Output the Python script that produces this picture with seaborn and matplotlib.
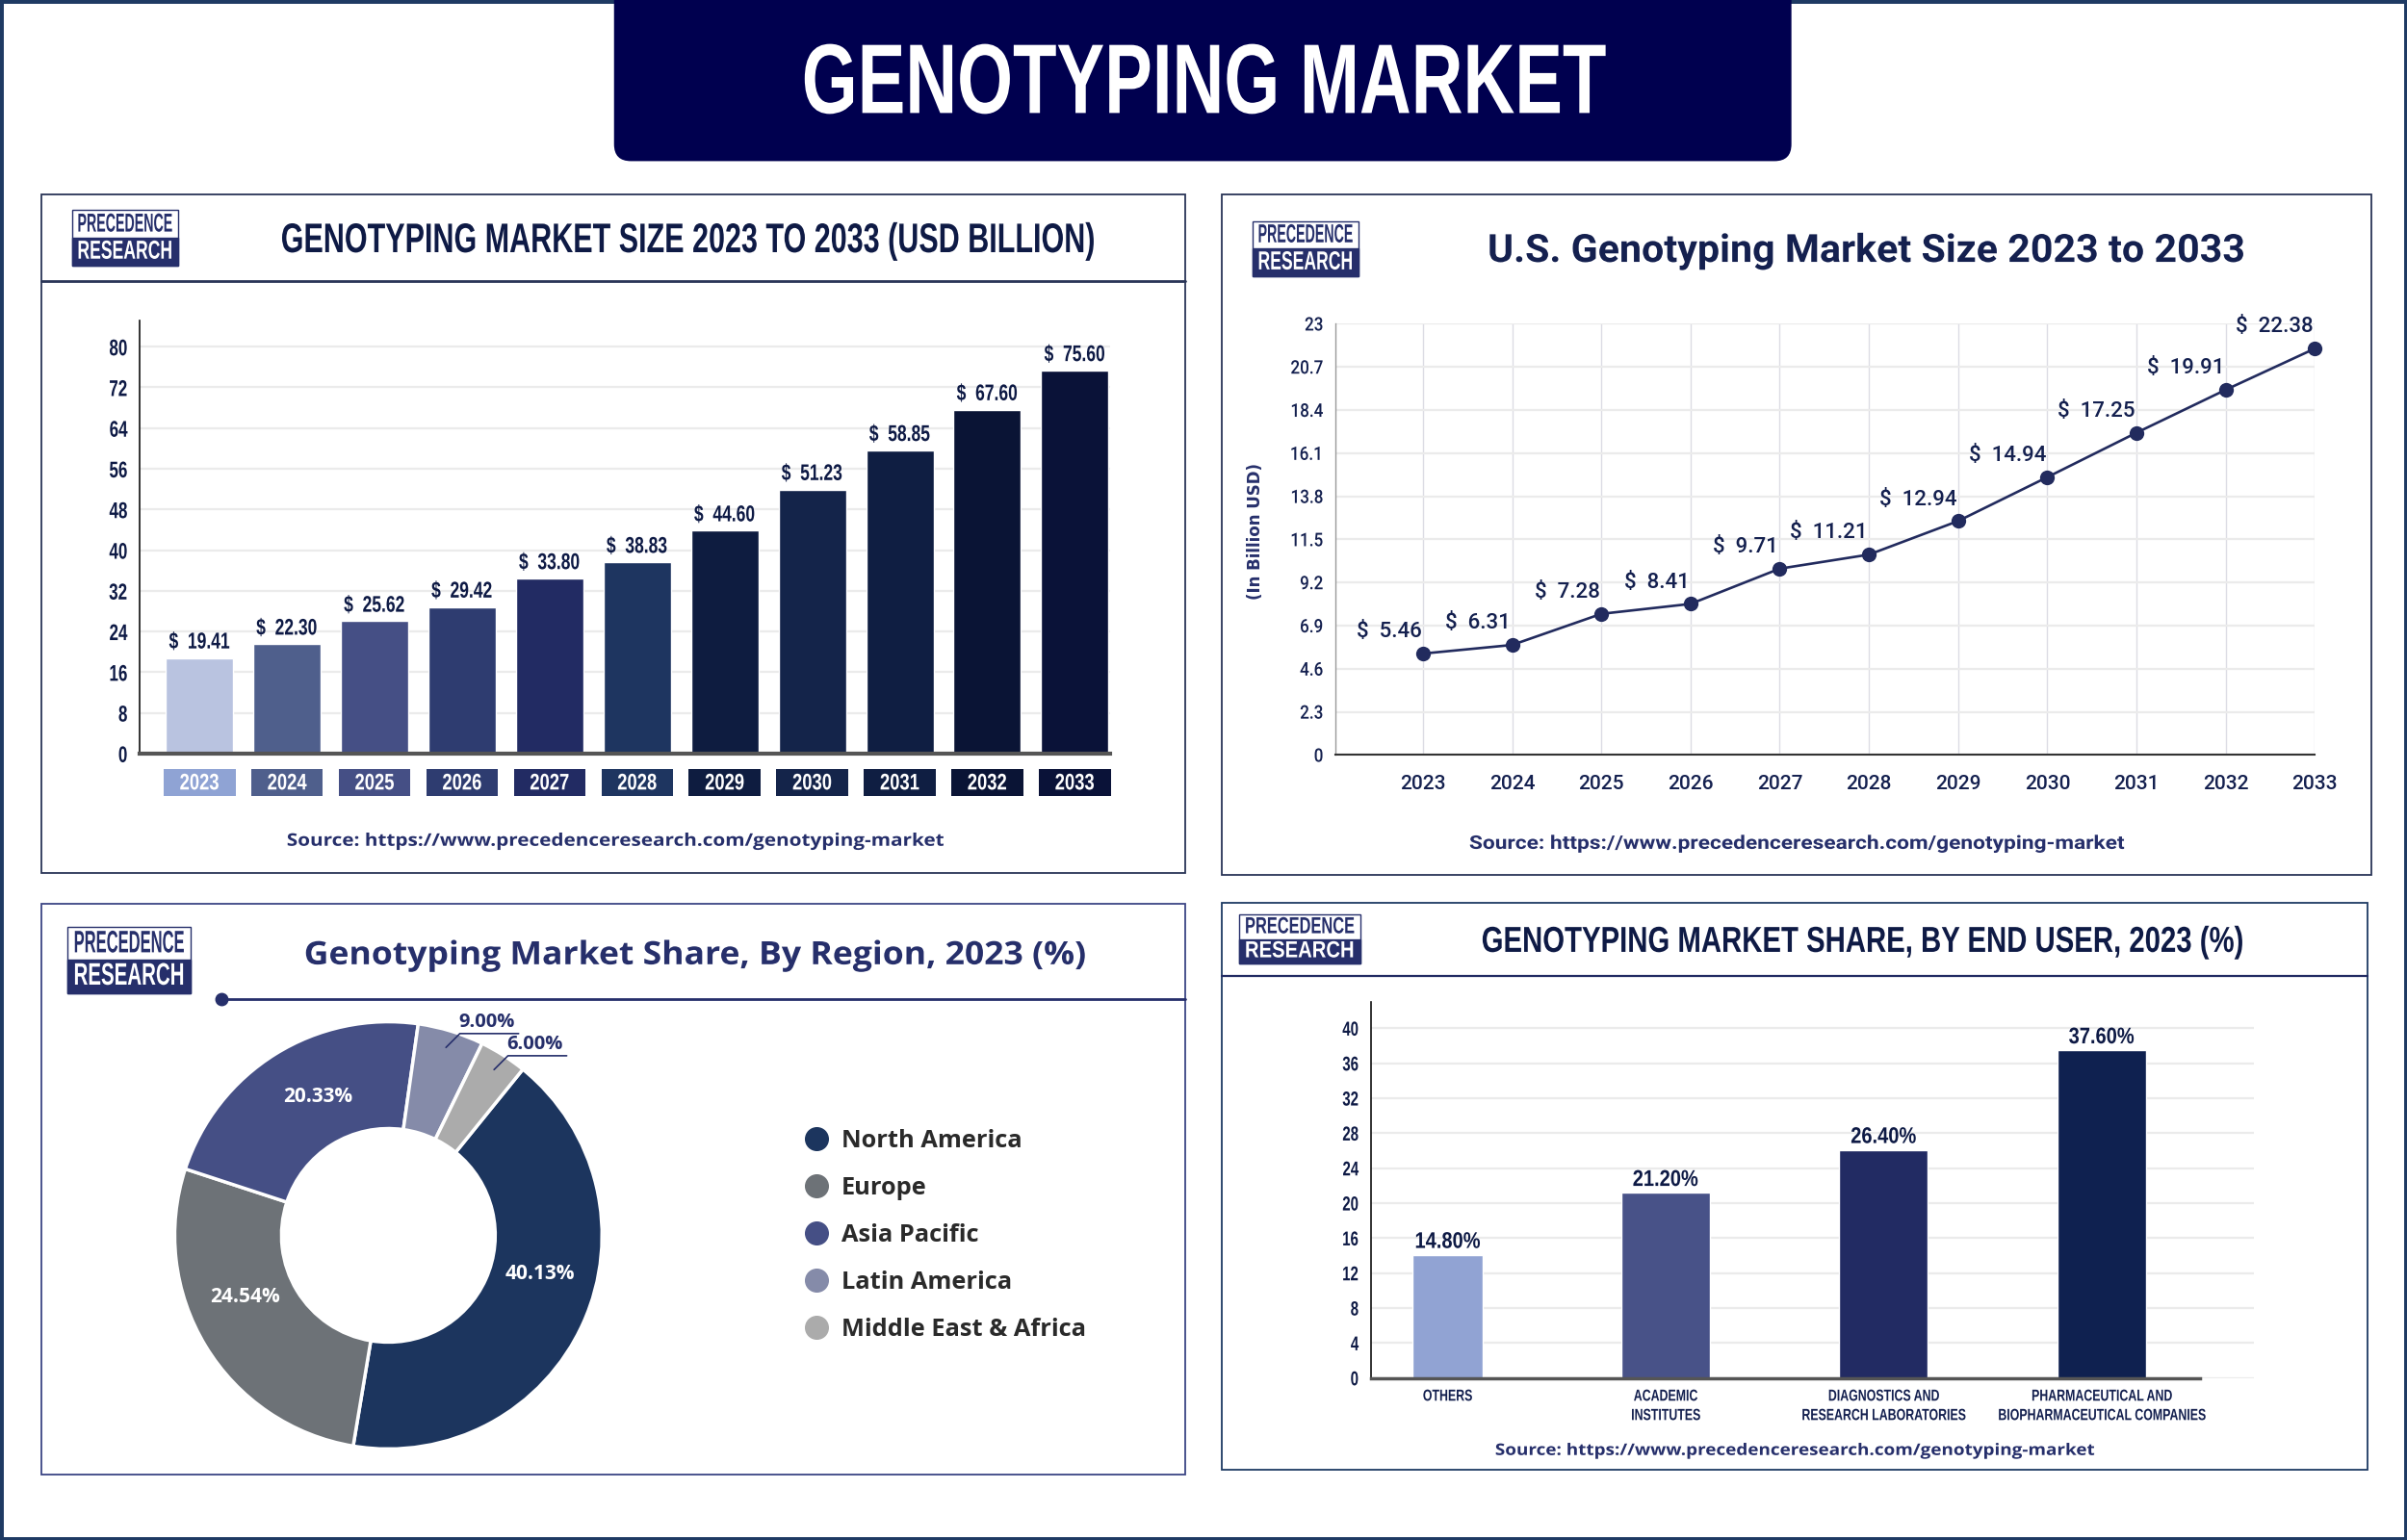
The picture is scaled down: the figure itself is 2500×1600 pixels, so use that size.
import matplotlib
matplotlib.use("Agg")
import matplotlib.pyplot as plt
import numpy as np
import seaborn as sns
from matplotlib.lines import Line2D
from matplotlib.patches import FancyBboxPatch, Rectangle
from matplotlib.patheffects import AbstractPathEffect
from matplotlib.transforms import Affine2D

# data
# the picture's marks do not sit exactly at their printed numbers,
# so each chart keeps the printed labels and the heights as drawn
years = ["2023", "2024", "2025", "2026", "2027", "2028", "2029", "2030", "2031", "2032", "2033"]
market_size = [19.41, 22.30, 25.62, 29.42, 33.80, 38.83, 44.60, 51.23, 58.85, 67.60, 75.60]
market_drawn = [18.8, 21.5, 26.0, 28.8, 34.4, 37.6, 43.8, 51.9, 59.6, 67.6, 75.3]
size_ticks = [0, 8, 16, 24, 32, 40, 48, 56, 64, 72, 80]

us_size = [5.46, 6.31, 7.28, 8.41, 9.71, 11.21, 12.94, 14.94, 17.25, 19.91, 22.38]
us_drawn = [5.41, 5.87, 7.53, 8.06, 9.94, 10.69, 12.48, 14.82, 17.19, 19.48, 21.68]
us_ticks = [0, 2.3, 4.6, 6.9, 9.2, 11.5, 13.8, 16.1, 18.4, 20.7, 23]

regions = ["North America", "Europe", "Asia Pacific", "Latin America", "Middle East & Africa"]
region_labels = ["40.13%", "24.54%", "20.33%", "9.00%", "6.00%"]
region_drawn = [41.8, 27.4, 22.2, 5.0, 3.6]

end_users = ["OTHERS", "ACADEMIC\nINSTITUTES", "DIAGNOSTICS AND\nRESEARCH LABORATORIES",
             "PHARMACEUTICAL AND\nBIOPHARMACEUTICAL COMPANIES"]
end_user_share = [14.80, 21.20, 26.40, 37.60]
end_user_drawn = [14.1, 21.2, 26.1, 37.5]
end_user_ticks = [0, 4, 8, 12, 16, 20, 24, 28, 32, 36, 40]

# colours
NAVY = "#0E1A45"
TITLE_BLUE = "#262F6B"
BAR_COLORS = ["#B9C3E0", "#4F5F8C", "#454F85", "#2E3C70", "#222B63", "#1E3560",
              "#0E1C40", "#14244A", "#0F1E42", "#0A1435", "#0A1238"]
BOX_COLORS = ["#8FA3D4", "#4F5F8C", "#454F85", "#2E3C70", "#222B63", "#1E3560",
              "#0E1C40", "#14244A", "#0F1E42", "#0A1435", "#0A1238"]
REGION_COLORS = ["#1C355E", "#6D7277", "#454F85", "#858BA9", "#ABABAB"]
END_USER_COLORS = ["#91A3D3", "#485288", "#222B63", "#0F2150"]

sns.set_theme(style="white")
plt.rcParams["font.family"] = ["Liberation Sans", "DejaVu Sans"]

S = 2500 / 1568  # layout numbers below are in 1568 wide picture units
fig = plt.figure(figsize=(25, 16), dpi=100, facecolor="white")
bg = fig.add_axes([0, 0, 1, 1])
bg.set_xlim(0, 2500 / S)
bg.set_ylim(1600 / S, 0)
bg.axis("off")


class Squeeze(AbstractPathEffect):
    """Reshape the glyphs, the installed fonts have no condensed face"""

    def __init__(self, sx, anchor="center", sy=1):
        self.sx = sx
        self.sy = sy
        self.anchor = anchor

    def draw_path(self, renderer, gc, tpath, affine, rgbFace=None):
        box = tpath.get_extents()
        mid = box.x1 if self.anchor == "right" else (box.x0 + box.x1) / 2
        squeeze = Affine2D().translate(-mid, 0).scale(self.sx, self.sy).translate(mid, 0)
        renderer.draw_path(gc, tpath, squeeze + affine, rgbFace)


def fit_text(x0, x1, y, s, size, color=NAVY, weight="bold", family=None, tall=1):
    """Text centred between x0 and x1, fitted to that width and made taller by the tall factor"""
    t = bg.text((x0 + x1) / 2, y, s, ha="center", va="center", fontsize=size,
                color=color, fontweight=weight, family=family or plt.rcParams["font.family"])
    w = t.get_window_extent(fig.canvas.get_renderer()).width
    t.set_path_effects([Squeeze((x1 - x0) * S / w, sy=tall)])
    return t


def chart_axes(left, right, top, bottom):
    ax = fig.add_axes([left * S / 2500, 1 - bottom * S / 1600,
                       (right - left) * S / 2500, (bottom - top) * S / 1600])
    ax.patch.set_alpha(0)
    return ax


def panel(x0, y0, x1, y1, color="#2A3557"):
    bg.add_patch(Rectangle((x0, y0), x1 - x0, y1 - y0, fc="white", ec=color, lw=1.3))


def logo(x0, y0, x1, y1):
    mid = (y0 + y1) / 2
    bg.add_patch(Rectangle((x0, y0), x1 - x0, y1 - y0, fc="white", ec=TITLE_BLUE, lw=1))
    bg.add_patch(Rectangle((x0, mid), x1 - x0, y1 - mid, fc=TITLE_BLUE, ec=TITLE_BLUE, lw=1))
    size = (y1 - y0) * 0.4
    pad = (x1 - x0) * 0.05
    fit_text(x0 + pad, x1 - pad, y0 + (y1 - y0) * 0.29, "PRECEDENCE", size, color=TITLE_BLUE, tall=1.35)
    fit_text(x0 + pad, x1 - pad, y0 + (y1 - y0) * 0.78, "RESEARCH", size, color="white", tall=1.35)


def style_axis(ax, ticks, pad=9):
    sns.despine(ax=ax)
    ax.set_yticks(ticks)
    ax.set_xlabel("")
    ax.set_ylabel("")
    ax.tick_params(axis="both", length=0)
    ax.tick_params(axis="y", pad=pad)
    ax.set_axisbelow(True)
    ax.yaxis.grid(True, color="#EBEBEB", lw=1.6)
    ax.spines["left"].set_color("#111111")
    ax.spines["left"].set_linewidth(1.2)


# outer frame and banner
bg.add_patch(Rectangle((0, 0), 2500 / S, 1600 / S, fc="white", ec="#1E3A63", lw=5))
bg.add_patch(FancyBboxPatch((400, -30), 767, 135, boxstyle="round,pad=0,rounding_size=11",
                            fc="#00004F", ec="none"))
fit_text(522, 1046, 57, "GENOTYPING MARKET", 74, color="white")

# market size bars
panel(27, 127, 772, 569)
bg.plot([27, 772], [183, 183], color="#2A3557", lw=2)
logo(47, 137, 116, 173)
fit_text(183, 714, 159, "GENOTYPING MARKET SIZE 2023 TO 2033 (USD BILLION)", 24, tall=1.29)
fit_text(187, 612, 548, "Source: https://www.precedenceresearch.com/genotyping-market", 13,
         color=TITLE_BLUE, family="Open Sans")

ax1 = chart_axes(91, 723, 209, 491)
sns.barplot(x=years, y=market_drawn, hue=years, palette=BAR_COLORS, saturation=1,
            width=0.77, legend=False, ax=ax1)
ax1.set_xlim(-0.684, 10.4)
ax1.set_ylim(0, 85.1)
style_axis(ax1, size_ticks)
ax1.spines["bottom"].set_color("#555555")
ax1.spines["bottom"].set_linewidth(3)
ax1.set_xticks(range(len(years)))
ax1.set_xticklabels(years, color="white", fontsize=17, fontweight="bold")
ax1.tick_params(axis="x", pad=14)
for lab in ax1.get_xticklabels():
    lab.set_path_effects([Squeeze(0.78)])
for lab in ax1.get_yticklabels():
    lab.set_fontsize(17)
    lab.set_fontweight("bold")
    lab.set_color(NAVY)
    lab.set_path_effects([Squeeze(0.72, "right")])
for i, (v, h) in enumerate(zip(market_size, market_drawn)):
    ax1.add_patch(Rectangle((i - 0.41, -28 / 282), 0.82, 18 / 282, fc=BOX_COLORS[i], ec="none",
                            transform=ax1.get_xaxis_transform(), clip_on=False, zorder=0))
    t = ax1.annotate(f"$  {v:.2f}", (i, h), xytext=(0, 3.5), textcoords="offset points",
                     ha="center", va="bottom", fontsize=17, fontweight="bold", color=NAVY)
    t.set_path_effects([Squeeze(0.74)])

# U.S. market line
panel(796, 127, 1545, 570)
logo(816, 144, 885, 180)
fit_text(969, 1463, 165, "U.S. Genotyping Market Size 2023 to 2033", 24, color="#14204F",
         family="Roboto", tall=1.21)
fit_text(957, 1385, 550, "Source: https://www.precedenceresearch.com/genotyping-market", 14,
         color=TITLE_BLUE, family="Roboto")
bg.text(818, 346, "(In Billion USD)", rotation=90, ha="center", va="center", fontsize=12,
        fontweight="bold", color=TITLE_BLUE, family="DejaVu Sans")

ax2 = chart_axes(870, 1508, 211, 492)
us_years = [int(y) for y in years]
sns.lineplot(x=us_years, y=us_drawn, color="#222B5E", lw=1.9, marker="o", markersize=11,
             markeredgewidth=0, ax=ax2)
for line in ax2.lines:
    line.set_clip_on(False)
ax2.set_xlim(2022.02, 2033)
ax2.set_ylim(0, 23)
style_axis(ax2, us_ticks)
ax2.xaxis.grid(True, color="#DCDCE4", lw=1)
ax2.spines["bottom"].set_color("#333333")
ax2.spines["bottom"].set_linewidth(1.5)
ax2.spines["left"].set_linewidth(1)
ax2.spines["left"].set_color("#999999")
ax2.set_xticks(us_years)
ax2.set_xticklabels(years, fontsize=15, fontweight="medium", color="#14204F", family="Roboto")
ax2.tick_params(axis="x", pad=15)
ax2.set_yticks(us_ticks)
ax2.set_yticklabels([str(t) for t in us_ticks], fontsize=14, fontweight="medium", color="#14204F", family="Roboto")
for lab in ax2.get_yticklabels():
    lab.set_path_effects([Squeeze(0.88, "right")])
for yr, v, h in zip(us_years, us_size, us_drawn):
    ax2.annotate(f"$  {v:.2f}", (yr, h), xytext=(-1, 16), textcoords="offset points", ha="right",
                 va="center", fontsize=16, fontweight="medium", color="#14204F", family="Roboto",
                 annotation_clip=False)

# region donut
panel(27, 589, 772, 961, color="#3C4585")
logo(44, 604, 124, 647)
fit_text(198, 708, 623, "Genotyping Market Share, By Region, 2023 (%)", 24, color=TITLE_BLUE, family="Open Sans")
bg.plot([144, 772], [651, 651], color=TITLE_BLUE, lw=2)
bg.plot([144], [651], "o", color=TITLE_BLUE, ms=9)

ax3 = chart_axes(253 - 174, 253 + 174, 805 - 174, 805 + 174)
wedges, _ = ax3.pie(region_drawn, colors=REGION_COLORS, startangle=51, counterclock=False,
                    wedgeprops=dict(width=0.5, edgecolor="white", linewidth=2.5))
ax3.set_xlim(-1.25, 1.25)
ax3.set_ylim(-1.25, 1.25)
label_nudge = [10, -8, -5]
for w, lab, nudge in zip(wedges[:3], region_labels[:3], label_nudge):
    a = np.deg2rad((w.theta1 + w.theta2) / 2 + nudge)
    ax3.text(0.73 * np.cos(a), 0.73 * np.sin(a), lab, ha="center", va="center", color="white",
             fontsize=15, fontweight="bold", family="Open Sans")
for w, lab in zip(wedges[3:], region_labels[3:]):
    a = np.deg2rad((w.theta1 + w.theta2) / 2)
    x0, y0 = 0.92 * np.cos(a), 0.92 * np.sin(a)
    ax3.plot([x0, x0 + 0.065, x0 + 0.34], [y0, y0 + 0.065, y0 + 0.065], color=TITLE_BLUE, lw=1.2)
    ax3.text(x0 + 0.19, y0 + 0.075, lab, ha="center", va="bottom", color=TITLE_BLUE,
             fontsize=14.5, fontweight="bold", family="Open Sans")

handles = [Line2D([], [], marker="o", ls="", ms=17, color=c) for c in REGION_COLORS]
bg.legend(handles, regions, loc="center left", bbox_to_anchor=(521, 805), bbox_transform=bg.transData,
          frameon=False, prop=dict(family="Open Sans", weight="bold", size=18.3), labelcolor="#2A2A2A",
          labelspacing=0.95, handletextpad=0.3, handlelength=1.4, borderpad=0, borderaxespad=0)

# end user bars
panel(796, 588, 1542, 958, color="#1E3A63")
bg.plot([796, 1542], [636, 636], color="#222B63", lw=1.6)
logo(807, 596, 886, 628)
fit_text(965, 1461, 614, "GENOTYPING MARKET SHARE, BY END USER, 2023 (%)", 27)
fit_text(974, 1364, 945, "Source: https://www.precedenceresearch.com/genotyping-market", 12,
         color=TITLE_BLUE, family="Open Sans")

ax4 = chart_axes(893, 1468, 653, 898)
sns.barplot(x=end_users, y=end_user_drawn, hue=end_users, palette=END_USER_COLORS, saturation=1,
            width=0.405, legend=False, ax=ax4)
# the first bar is narrower than the others in the picture
ax4.patches[0].set_x(-0.162)
ax4.patches[0].set_width(0.324)
ax4.set_xlim(-0.352, 3.697)
ax4.set_ylim(0, 43)
style_axis(ax4, end_user_ticks)
ax4.spines["bottom"].set_color("#555555")
ax4.spines["bottom"].set_linewidth(2.5)
ax4.spines["bottom"].set_bounds(-0.352, 3.451)
ax4.set_xticks(range(len(end_users)))
ax4.set_xticklabels(end_users, fontsize=10, fontweight="bold", color="#14204F", linespacing=1.55)
ax4.tick_params(axis="x", pad=9)
for lab in ax4.get_xticklabels():
    lab.set_path_effects([Squeeze(0.89, sy=1.2)])
for lab in ax4.get_yticklabels():
    lab.set_fontsize(15)
    lab.set_fontweight("bold")
    lab.set_color(NAVY)
    lab.set_path_effects([Squeeze(0.72, "right")])
for i, (v, h) in enumerate(zip(end_user_share, end_user_drawn)):
    t = ax4.annotate(f"{v:.2f}%", (i, h), xytext=(0, 1.5), textcoords="offset points", ha="center",
                     va="bottom", fontsize=17, fontweight="bold", color=NAVY)
    t.set_path_effects([Squeeze(0.85)])

fig.savefig("out.png", dpi=100, facecolor="white")
